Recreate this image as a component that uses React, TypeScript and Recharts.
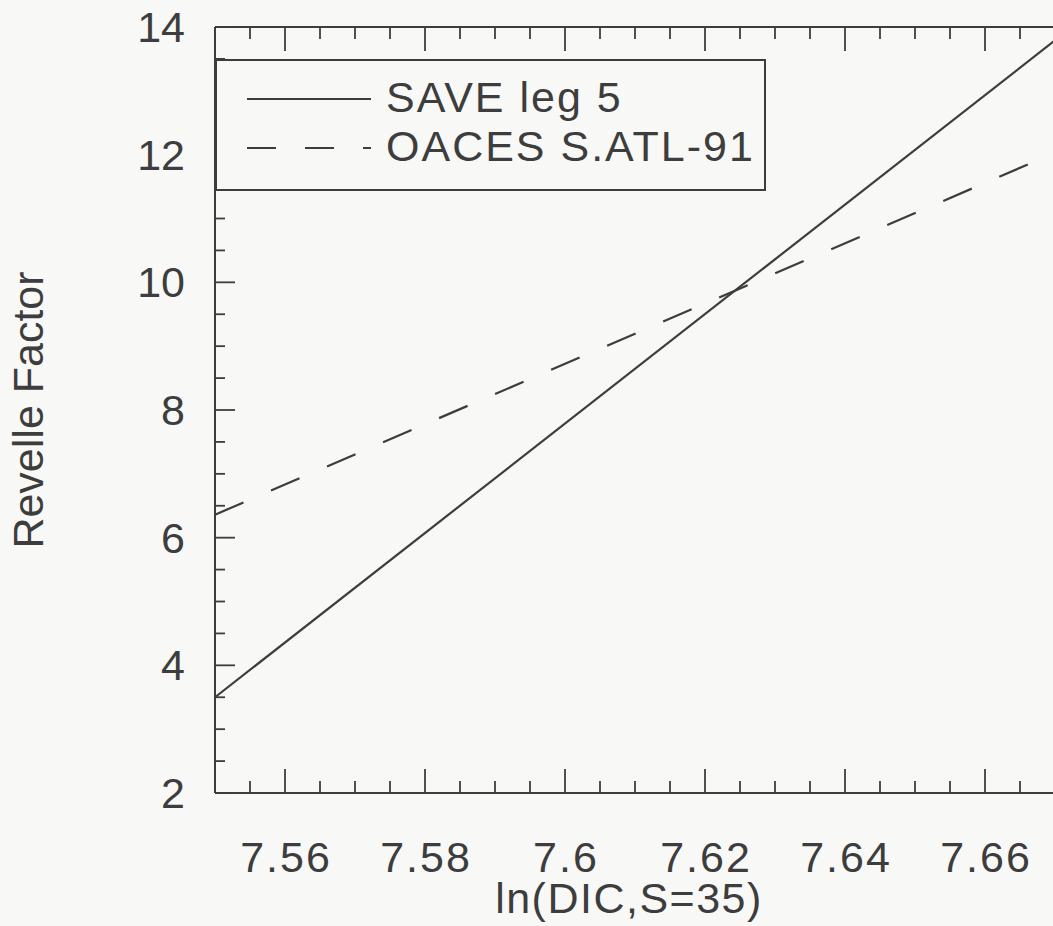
import React from "react";
import { Label, Legend, Line, LineChart, XAxis, YAxis } from "recharts";

// ln(DIC, S=35) at the two ends of the plotted range
const lnDic = [7.55, 7.67];
const saveLeg5 = [3.5, 13.79];
const oacesSAtl91 = [6.36, 12.03];

const xTicks = [
  7.55, 7.555, 7.56, 7.565, 7.57, 7.575, 7.58, 7.585, 7.59, 7.595, 7.6, 7.605,
  7.61, 7.615, 7.62, 7.625, 7.63, 7.635, 7.64, 7.645, 7.65, 7.655, 7.66, 7.665,
  7.67,
];
const xMajor = [7.56, 7.58, 7.6, 7.62, 7.64, 7.66];
const xLabels = ["7.56", "7.58", "7.6", "7.62", "7.64", "7.66"];

const yTicks = [
  2, 2.5, 3, 3.5, 4, 4.5, 5, 5.5, 6, 6.5, 7, 7.5, 8, 8.5, 9, 9.5, 10, 10.5, 11,
  11.5, 12, 12.5, 13, 13.5, 14,
];
const yMajor = [2, 4, 6, 8, 10, 12, 14];

const seriesNames = ["SAVE leg 5", "OACES S.ATL-91"];

const data = lnDic.map((x, i) => ({
  x,
  save: saveLeg5[i],
  oaces: oacesSAtl91[i],
}));

const INK = "#3d3d3d";
const FONT = '"Liberation Sans", Arial, Helvetica, sans-serif';
const X_GAP = 79;
const Y_GAP = 30;

const majorIdx = (list: number[], v: number) =>
  list.findIndex((m) => Math.abs(m - v) < 1e-6);

const BottomTick = (props: any) => {
  const { x, y, payload } = props;
  const i = majorIdx(xMajor, payload.value);
  const base = y - X_GAP;
  return (
    <g>
      <line x1={x} x2={x} y1={base} y2={base - (i >= 0 ? 24 : 12)} stroke={INK} strokeWidth={1.8} />
      {i >= 0 && (
        <text x={x + 1} y={y} textAnchor="middle" fontSize={43} letterSpacing={2} fill={INK} fontFamily={FONT}>
          {xLabels[i]}
        </text>
      )}
    </g>
  );
};

const TopTick = (props: any) => {
  const { x, y, payload } = props;
  const major = majorIdx(xMajor, payload.value) >= 0;
  return <line x1={x} x2={x} y1={y} y2={y + (major ? 24 : 12)} stroke={INK} strokeWidth={1.8} />;
};

const LeftTick = (props: any) => {
  const { x, y, payload } = props;
  const major = majorIdx(yMajor, payload.value) >= 0;
  const base = x + Y_GAP;
  return (
    <g>
      <line x1={base} x2={base + (major ? 20 : 10)} y1={y} y2={y} stroke={INK} strokeWidth={1.8} />
      {major && (
        <text x={x} y={y + 15} textAnchor="end" fontSize={43} fill={INK} fontFamily={FONT}>
          {payload.value}
        </text>
      )}
    </g>
  );
};

const RightTick = (props: any) => {
  const { x, y, payload } = props;
  const major = majorIdx(yMajor, payload.value) >= 0;
  return <line x1={x} x2={x - (major ? 20 : 10)} y1={y} y2={y} stroke={INK} strokeWidth={1.8} />;
};

const LegendBox = () => (
  <svg width={552} height={133} style={{ display: "block" }}>
    <rect x={1} y={1} width={549} height={130} fill="#f8f8f6" stroke={INK} strokeWidth={2} />
    <line x1={32} x2={156} y1={40} y2={40} stroke={INK} strokeWidth={2} />
    <line x1={32} x2={156} y1={89} y2={89} stroke={INK} strokeWidth={2} strokeDasharray="29 29" />
    <text x={171} y={53} fontSize={43} letterSpacing={2} fill={INK} fontFamily={FONT}>
      {seriesNames[0]}
    </text>
    <text x={171} y={102} fontSize={43} letterSpacing={2} fill={INK} fontFamily={FONT}>
      {seriesNames[1]}
    </text>
  </svg>
);

const axisLine = { stroke: INK, strokeWidth: 2 };

export default function App() {
  return (
    <div
      style={{
        position: "absolute",
        left: 0,
        top: 0,
        width: 1053,
        height: 926,
        overflow: "hidden",
        background: "#f8f8f6",
      }}
    >
      <LineChart width={1075} height={926} data={data} margin={{ top: 0, right: 0, bottom: 0, left: 0 }}>
        <XAxis
          dataKey="x"
          type="number"
          domain={[7.55, 7.67]}
          ticks={xTicks}
          interval={0}
          tickSize={0}
          tickMargin={X_GAP}
          tickLine={false}
          tick={BottomTick}
          axisLine={axisLine}
          height={133}
        >
          <Label
            content={(p: any) => {
              const vb = p.viewBox;
              return (
                <text
                  x={vb.x + vb.width / 2 - 6}
                  y={vb.y + 120}
                  textAnchor="middle"
                  fontSize={43}
                  letterSpacing={1.5}
                  fill={INK}
                  fontFamily={FONT}
                >
                  ln(DIC,S=35)
                </text>
              );
            }}
          />
        </XAxis>
        <XAxis
          xAxisId="top"
          orientation="top"
          dataKey="x"
          type="number"
          domain={[7.55, 7.67]}
          ticks={xTicks}
          interval={0}
          tickSize={0}
          tickMargin={0}
          tickLine={false}
          tick={TopTick}
          axisLine={axisLine}
          height={27}
        />
        <YAxis
          type="number"
          domain={[2, 14]}
          ticks={yTicks}
          interval={0}
          tickSize={0}
          tickMargin={Y_GAP}
          tickLine={false}
          tick={LeftTick}
          axisLine={axisLine}
          width={215}
        >
          <Label
            content={(p: any) => {
              const vb = p.viewBox;
              const cx = 28;
              const cy = vb.y + vb.height / 2;
              return (
                <text
                  x={cx}
                  y={cy}
                  dy="0.36em"
                  transform={`rotate(-90, ${cx}, ${cy})`}
                  textAnchor="middle"
                  fontSize={43}
                  fill={INK}
                  fontFamily={FONT}
                >
                  Revelle Factor
                </text>
              );
            }}
          />
        </YAxis>
        <YAxis
          yAxisId="right"
          orientation="right"
          type="number"
          domain={[2, 14]}
          ticks={yTicks}
          interval={0}
          tickSize={0}
          tickMargin={0}
          tickLine={false}
          tick={RightTick}
          axisLine={axisLine}
          width={20}
        />
        <Legend
          layout="horizontal"
          verticalAlign="middle"
          align="center"
          wrapperStyle={{ left: 215, top: 59, width: 552, height: 133 }}
          content={() => <LegendBox />}
        />
        <Line
          type="linear"
          dataKey="save"
          name={seriesNames[0]}
          stroke={INK}
          strokeWidth={2.2}
          dot={false}
          activeDot={false}
          isAnimationActive={false}
        />
        <Line
          type="linear"
          dataKey="oaces"
          name={seriesNames[1]}
          stroke={INK}
          strokeWidth={2.2}
          strokeDasharray="31 30"
          dot={false}
          activeDot={false}
          isAnimationActive={false}
        />
      </LineChart>
    </div>
  );
}
